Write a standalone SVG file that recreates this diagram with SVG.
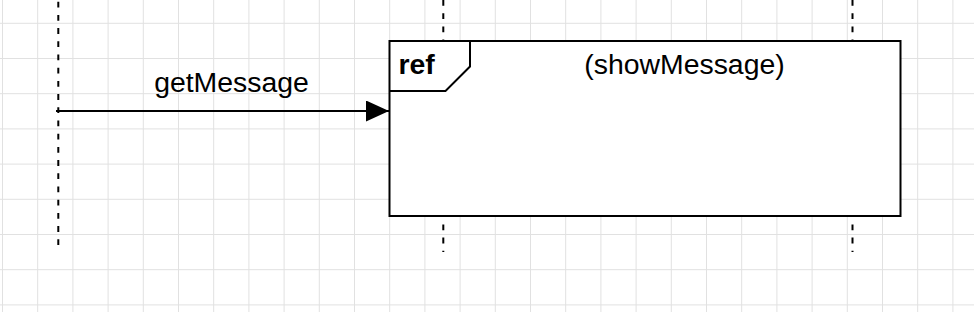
<svg xmlns="http://www.w3.org/2000/svg" width="974" height="312" viewBox="0 0 974 312">
<style>
.grid{stroke:#e1e1e1;stroke-width:1;fill:none}
.life{stroke:#000;stroke-width:2;stroke-dasharray:5.8 7.4;fill:none}
.frame{stroke:#000;stroke-width:2;fill:#fff}
.edge{stroke:#000;stroke-width:2;fill:none}
.lbl{font-family:"Liberation Sans",Arial,sans-serif;fill:#000;font-size:28.4px}
</style>
<defs>
<marker id="arrow" markerUnits="userSpaceOnUse" markerWidth="24" markerHeight="22" refX="23" refY="10.5" orient="auto">
<path d="M0,0 L23,10.5 L0,21 Z" fill="#000"/>
</marker>
</defs>
<rect width="974" height="312" fill="#fff"/>
<g id="grid" class="grid">
<path d="M2.5 0V312M37.7 0V312M72.9 0V312M108.1 0V312M143.3 0V312M178.5 0V312M213.7 0V312M248.9 0V312M284.1 0V312M319.3 0V312M354.5 0V312M389.7 0V312M424.9 0V312M460.1 0V312M495.3 0V312M530.5 0V312M565.7 0V312M600.9 0V312M636.1 0V312M671.3 0V312M706.5 0V312M741.7 0V312M776.9 0V312M812.1 0V312M847.3 0V312M882.5 0V312M917.7 0V312M952.9 0V312"/>
<path d="M0 23.3H974M0 58.5H974M0 93.7H974M0 128.9H974M0 164.1H974M0 199.3H974M0 234.5H974M0 269.7H974M0 304.9H974"/>
</g>
<g id="lifelines">
<line id="lifeline1" class="life" x1="58.3" y1="1.7" x2="58.3" y2="246"/>
<line id="lifeline2" class="life" x1="443.3" y1="0" x2="443.3" y2="252"/>
<line id="lifeline3" class="life" x1="852.5" y1="0" x2="852.5" y2="252"/>
</g>
<g id="ref-frame">
<rect class="frame" x="389.5" y="41" width="511" height="175"/>
<path class="edge" d="M389.5 91H445.5L470 66.5V41"/>
<text class="lbl" x="398.5" y="74" font-weight="bold">ref</text>
<text class="lbl" x="684.5" y="74" text-anchor="middle">(showMessage)</text>
</g>
<g id="connectors">
<line class="edge" x1="56" y1="111" x2="389" y2="111" marker-end="url(#arrow)"/>
<text class="lbl" x="231.5" y="92" text-anchor="middle">getMessage</text>
</g>
</svg>
